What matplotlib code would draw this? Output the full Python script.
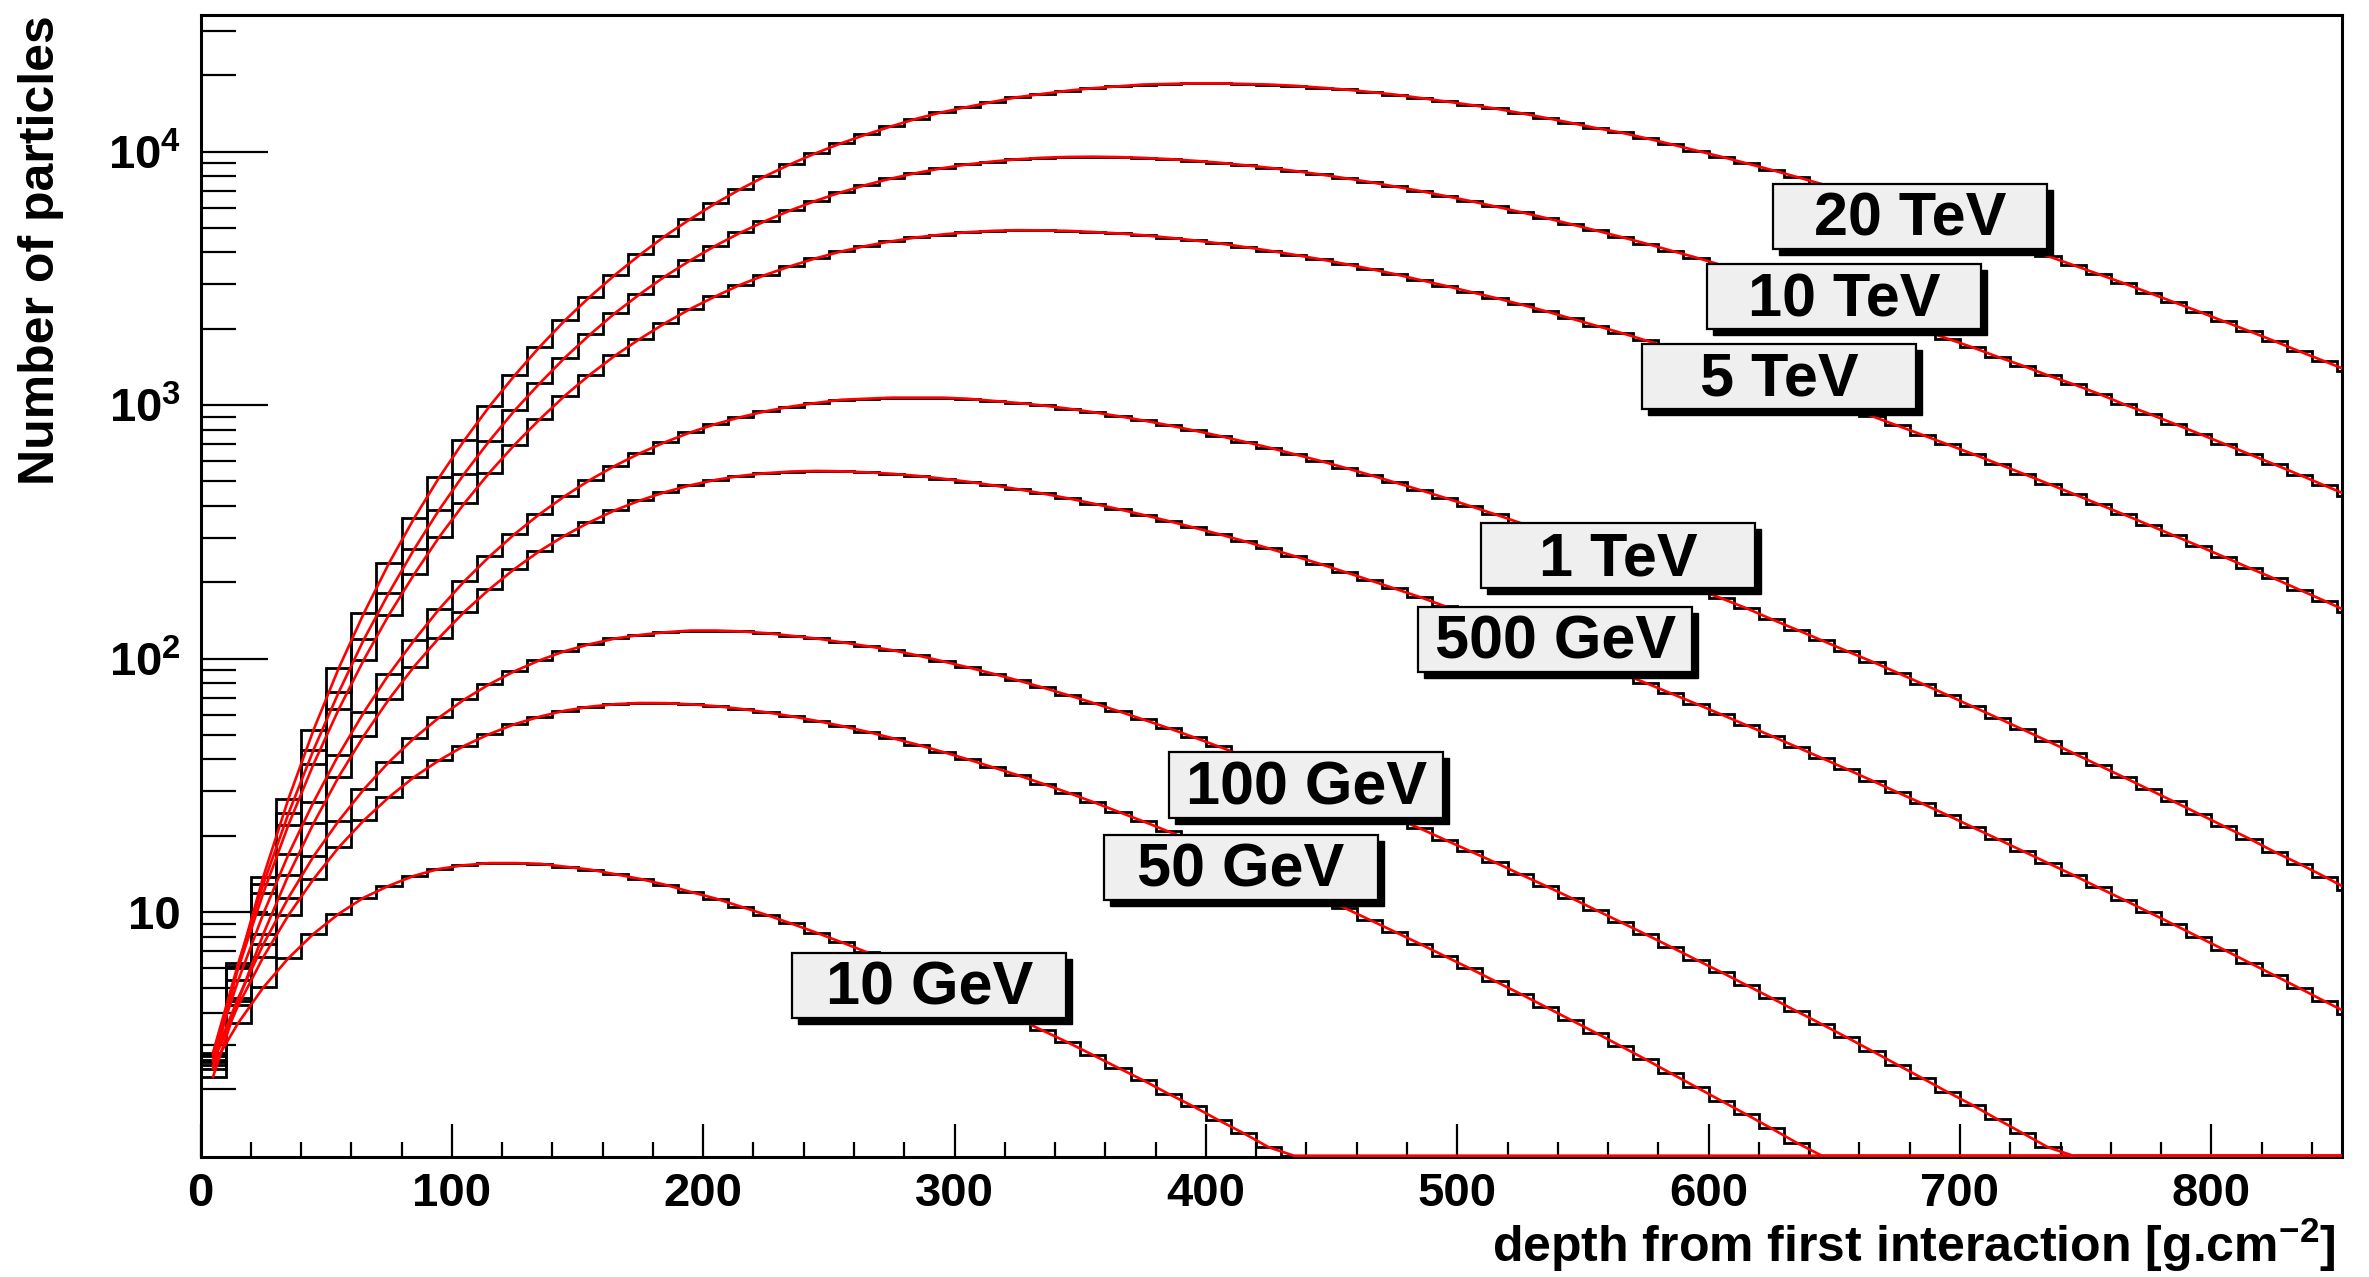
import numpy as np
import matplotlib
matplotlib.use('Agg')
import matplotlib.pyplot as plt
from matplotlib.patches import Rectangle
from matplotlib import transforms
from matplotlib.ticker import MultipleLocator, FixedLocator, FixedFormatter, LogLocator, NullFormatter

plt.rcParams['font.family'] = 'Liberation Sans'
plt.rcParams['font.weight'] = 'bold'
plt.rcParams['mathtext.fontset'] = 'custom'
plt.rcParams['mathtext.rm'] = 'Liberation Sans:bold'
plt.rcParams['mathtext.it'] = 'Liberation Sans:bold'
plt.rcParams['mathtext.bf'] = 'Liberation Sans:bold'

# depth bins [g/cm2], 10 wide
edges = np.arange(0, 870, 10)
centres = 0.5 * (edges[:-1] + edges[1:])

# number of particles per bin (bins below the axis are dropped)
n20tev = [2.41, 6.13, 13.8, 28, 52.4, 91.7, 151, 238, 358, 519, 727, 990, 1310, 1700,
          2160, 2680, 3270, 3930, 4660, 5430, 6260, 7130, 8030, 8950, 9880, 10800, 11700, 12600,
          13500, 14300, 15000, 15700, 16400, 16900, 17400, 17800, 18100, 18400, 18500, 18600, 18600, 18500,
          18400, 18200, 17900, 17600, 17200, 16800, 16300, 15800, 15300, 14800, 14200, 13600, 13000, 12400,
          11900, 11300, 10700, 10100, 9550, 9000, 8470, 7950, 7450, 6970, 6510, 6070, 5660, 5260,
          4880, 4520, 4180, 3870, 3570, 3290, 3030, 2780, 2550, 2340, 2140, 1960, 1790, 1630,
          1490, 1360]
n10tev = [2.79, 6.27, 12.9, 24.5, 43.7, 73.7, 119, 182, 270, 387, 537, 724, 953, 1220,
          1540, 1900, 2310, 2750, 3230, 3730, 4260, 4800, 5340, 5880, 6410, 6920, 7400, 7840,
          8240, 8600, 8900, 9140, 9330, 9460, 9530, 9550, 9520, 9450, 9350, 9210, 9050, 8850,
          8640, 8400, 8140, 7870, 7590, 7290, 7000, 6690, 6390, 6080, 5780, 5480, 5180, 4890,
          4610, 4340, 4070, 3820, 3570, 3330, 3110, 2900, 2690, 2500, 2320, 2140, 1980, 1830,
          1690, 1550, 1430, 1310, 1210, 1110, 1010, 926, 846, 772, 704, 641, 584, 531,
          482, 438]
n5tev = [2.76, 6, 11.9, 22.1, 38.4, 63.1, 99, 149, 215, 302, 410, 542, 698, 880,
         1090, 1320, 1570, 1830, 2110, 2400, 2690, 2990, 3270, 3540, 3800, 4040, 4250, 4430,
         4590, 4710, 4810, 4870, 4900, 4890, 4870, 4820, 4760, 4680, 4580, 4470, 4350, 4210,
         4070, 3920, 3770, 3610, 3450, 3290, 3120, 2960, 2800, 2650, 2500, 2350, 2200, 2060,
         1930, 1800, 1680, 1560, 1450, 1350, 1250, 1150, 1060, 981, 904, 831, 763, 700,
         642, 587, 537, 490, 447, 407, 371, 337, 306, 278, 252, 228, 207, 187,
         169, 152]
n1tev = [2.71, 5.38, 9.85, 16.9, 27.2, 41.8, 61.4, 86.8, 118, 157, 202, 253, 310, 372,
         438, 507, 577, 647, 715, 781, 842, 897, 946, 987, 1020, 1050, 1060, 1070,
         1070, 1070, 1060, 1040, 1020, 997, 969, 938, 905, 870, 833, 795, 757, 718,
         680, 641, 604, 567, 531, 496, 463, 431, 400, 371, 343, 316, 292, 268,
         246, 226, 207, 189, 173, 158, 143, 130, 118, 107, 97.3, 88, 79.5, 71.8,
         64.7, 58.3, 52.5, 47.2, 42.4, 38, 34.1, 30.5, 27.3, 24.4, 21.8, 19.5, 17.3, 15.5,
         13.8, 12.2]
n500gev = [2.24, 4.47, 8.19, 14, 22.4, 34.2, 49.6, 69.2, 93, 121, 153, 188, 226, 266,
           306, 346, 385, 421, 454, 483, 507, 526, 539, 547, 550, 548, 543, 536,
           526, 513, 499, 483, 466, 448, 429, 409, 389, 369, 349, 329, 310, 291,
           272, 254, 237, 220, 204, 189, 175, 161, 149, 137, 126, 115, 105, 96.3,
           87.9, 80.1, 72.9, 66.3, 60.2, 54.6, 49.5, 44.8, 40.5, 36.6, 33, 29.7, 26.8, 24.1,
           21.6, 19.4, 17.4, 15.6, 14, 12.5, 11.2, 10, 8.93, 7.96, 7.1, 6.32, 5.63, 5.01,
           4.45, 3.96]
n100gev = [2.61, 4.58, 7.46, 11.4, 16.6, 22.9, 30.5, 39.1, 48.5, 58.6, 69, 79.3, 89.2, 98.5,
           107, 114, 120, 124, 127, 129, 129, 128, 126, 123, 120, 116, 112, 108,
           103, 97.7, 92.5, 87.3, 82.1, 76.9, 71.8, 66.9, 62.1, 57.5, 53.2, 49, 45, 41.3,
           37.8, 34.5, 31.5, 28.6, 26, 23.6, 21.4, 19.3, 17.4, 15.7, 14.1, 12.7, 11.4, 10.2,
           9.13, 8.16, 7.28, 6.49, 5.79, 5.15, 4.58, 4.06, 3.61, 3.2, 2.83, 2.5, 2.21, 1.95,
           1.73, 1.52, 1.34, 1.18, 1.04]
n50gev = [2.57, 4.28, 6.65, 9.72, 13.5, 18, 23, 28.4, 34.1, 39.7, 45.3, 50.4, 55.1, 59,
          62.3, 64.6, 66.1, 66.8, 66.7, 66, 64.9, 63.3, 61.4, 59.2, 56.8, 54.2, 51.5, 48.6,
          45.8, 42.9, 40.1, 37.3, 34.7, 32.1, 29.6, 27.2, 24.9, 22.8, 20.8, 19, 17.2, 15.6,
          14.2, 12.8, 11.5, 10.4, 9.33, 8.37, 7.5, 6.7, 5.99, 5.34, 4.76, 4.23, 3.76, 3.34,
          2.96, 2.62, 2.31, 2.04, 1.8, 1.59, 1.4, 1.23, 1.08, 0.952]
n10gev = [2.48, 3.65, 5.04, 6.58, 8.21, 9.84, 11.4, 12.7, 13.9, 14.8, 15.3, 15.6, 15.6, 15.5,
          15.1, 14.7, 14.1, 13.5, 12.8, 12, 11.3, 10.5, 9.75, 9.01, 8.29, 7.6, 6.95, 6.33,
          5.75, 5.21, 4.7, 4.24, 3.81, 3.41, 3.06, 2.73, 2.43, 2.17, 1.92, 1.71, 1.51, 1.34,
          1.18, 1.04]

energies = ['20 TeV', '10 TeV', '5 TeV', '1 TeV', '500 GeV', '100 GeV', '50 GeV', '10 GeV']
profiles = [n20tev, n10tev, n5tev, n1tev, n500gev, n100gev, n50gev, n10gev]

# label box centres (depth, particles)
label_x = [680, 654, 628, 564, 539, 440, 414, 290]
label_y = [5550, 2680, 1300, 255, 119, 31.7, 15.0, 5.13]

ymin, ymax = 1.08, 3.46e4
xmax = 852

fig = plt.figure(figsize=(23.69, 12.77), dpi=100)
ax = fig.add_axes([0.08464, 0.09397, 0.90397, 0.89428])

floor = ymin * 1.012
for vals in profiles:
    y = np.full(len(centres), floor)
    y[:len(vals)] = vals
    y = np.maximum(y, floor)
    ax.stairs(y, edges, color='black', lw=2.0, baseline=None, zorder=2)
    ax.plot(centres, y, color='red', lw=1.9, zorder=3)

# grey boxes with a drop shadow
shadow = transforms.offset_copy(ax.transData, fig=fig, x=6, y=-6, units='dots')
txt_shift = transforms.offset_copy(ax.transData, fig=fig, x=0, y=-4, units='dots')
bw, bh = 109, 1.344
for name, cx, cy in zip(energies, label_x, label_y):
    x0, y0 = cx - bw / 2, cy / bh
    hh = cy * bh - y0
    ax.add_patch(Rectangle((x0, y0), bw, hh, transform=shadow, facecolor='black',
                           edgecolor='black', lw=1, zorder=5))
    ax.add_patch(Rectangle((x0, y0), bw, hh, facecolor='#efefef', edgecolor='black',
                           lw=1.6, zorder=6))
    ax.text(cx, cy, name, ha='center', va='center', fontsize=44, fontweight='bold',
            transform=txt_shift, zorder=7)

ax.set_yscale('log')
ax.set_xlim(0, xmax)
ax.set_ylim(ymin, ymax)

ax.xaxis.set_major_locator(MultipleLocator(100))
ax.xaxis.set_minor_locator(MultipleLocator(20))
ax.yaxis.set_major_locator(FixedLocator([10, 100, 1000, 10000]))
ax.yaxis.set_major_formatter(FixedFormatter(['10', '$10^{2}$', '$10^{3}$', '$10^{4}$']))
ax.yaxis.set_minor_locator(LogLocator(base=10, subs=np.arange(2, 10)))
ax.yaxis.set_minor_formatter(NullFormatter())

ax.tick_params(axis='x', which='major', direction='in', length=24, width=1.6, labelsize=34, pad=11)
ax.tick_params(axis='x', which='minor', direction='in', length=11, width=1.6)
ax.tick_params(axis='y', which='major', direction='in', length=48, width=1.6, labelsize=34, pad=14)
ax.tick_params(axis='y', which='minor', direction='in', length=25, width=1.6)
for lab in ax.get_xticklabels() + ax.get_yticklabels():
    lab.set_fontweight('bold')
for sp in ax.spines.values():
    sp.set_linewidth(2.2)

ax.set_xlabel('depth from first interaction [g.cm$^{-2}$]', fontsize=36, fontweight='bold', loc='right')
ax.xaxis.set_label_coords(0.997, -0.052)
ax.set_ylabel('Number of particles', fontsize=36, fontweight='bold', loc='top')
ax.yaxis.set_label_coords(-0.0637, 1.0)

fig.savefig('out.png')
